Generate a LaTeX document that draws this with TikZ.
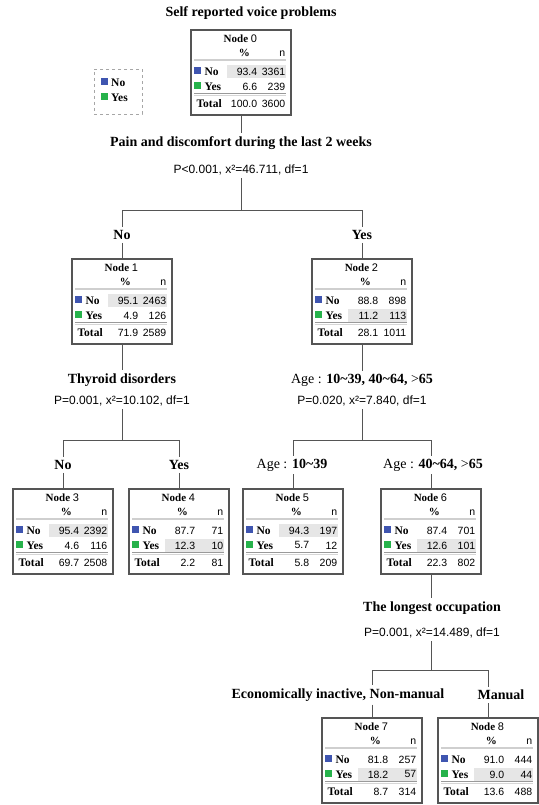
\documentclass[tikz,border=0pt]{standalone}
\usepackage{fontspec}
\setmainfont{Liberation Serif}
\setsansfont{Liberation Sans}
\usepackage{xcolor}
\usepackage{tikz}
\usetikzlibrary{calc}
\definecolor{wire}{HTML}{555555}
\definecolor{frame}{HTML}{555555}
\definecolor{cellgray}{HTML}{E6E6E6}
\definecolor{hdrline}{HTML}{CFCFCF}
\definecolor{sepdark}{HTML}{9A9A9A}
\definecolor{seplight}{HTML}{D6D6D6}
\definecolor{noblue}{HTML}{3F55B0}
\definecolor{yesgreen}{HTML}{26B24B}
\tikzset{
  every picture/.style={line cap=butt, line join=miter},
  branch/.style={draw=wire, line width=0.9pt},
  nodebox/.style={draw=frame, line width=1.2pt, fill=white, minimum width=100pt, minimum height=85pt, inner sep=0pt},
  keybox/.style={draw=gray!70, dashed, line width=0.8pt, minimum width=48pt, minimum height=45pt, inner sep=0pt},
  splitlab/.style={font=\fontsize{14}{16}\selectfont\bfseries, inner sep=3pt},
  stat/.style={font=\sffamily\fontsize{12}{14}\selectfont, inner sep=3pt},
  head/.style={font=\fontsize{11}{12}\selectfont\bfseries, inner sep=0pt},
  cell/.style={font=\sffamily\fontsize{10.5}{12}\selectfont, inner sep=0pt, anchor=east},
  rowlab/.style={font=\fontsize{11.5}{12}\selectfont\bfseries, inner sep=0pt, anchor=west},
  hdr/.style={draw=hdrline, line width=1.6pt},
  sepa/.style={draw=sepdark, line width=1.1pt},
  sepb/.style={draw=seplight, line width=1pt}
}
\newcommand{\TreeNode}[9]{%
  % #1 = name, #2 = centre x, #3 = top y, #4 = node number, #5 = shaded row (42 = No, 57 = Yes)
  % #6/#7 = No % and n, #8/#9 = Yes % and n
  \node[nodebox] (#1) at (#2,#3+42.5) {};
  \coordinate (#1-o) at (#1.north west);
  \fill[cellgray] ($(#1-o)+(37,#5-6.5)$) rectangle ($(#1-o)+(96,#5+6.5)$);
  \node[head] (#1-t) at ($(#1-o)+(50,9)$) {Node {\sffamily\mdseries #4}};
  \node[head] (#1-hp) at ($(#1-o)+(54,24)$) {\%};
  \node[cell] (#1-hn) at ($(#1-o)+(95,24)$) {n};
  \draw[hdr] ($(#1-o)+(4,30.5)$) -- ($(#1-o)+(96,30.5)$);
  \fill[noblue] ($(#1-o)+(4,37.5)$) rectangle ++(7,7);
  \fill[yesgreen] ($(#1-o)+(4,52.5)$) rectangle ++(7,7);
  \node[rowlab] (#1-no) at ($(#1-o)+(14,42)$) {No};
  \node[rowlab] (#1-yes) at ($(#1-o)+(14,57)$) {Yes};
  \node[cell] (#1-nop) at ($(#1-o)+(67,42)$) {#6};
  \node[cell] (#1-non) at ($(#1-o)+(95,42)$) {#7};
  \node[cell] (#1-yesp) at ($(#1-o)+(67,57)$) {#8};
  \node[cell] (#1-yesn) at ($(#1-o)+(95,57)$) {#9};
  \draw[sepa] ($(#1-o)+(4,64.5)$) -- ($(#1-o)+(96,64.5)$);
  \draw[sepb] ($(#1-o)+(4,66)$) -- ($(#1-o)+(96,66)$);
}
\newcommand{\TotalRow}[3]{%
  % #1 = name, #2 = total %, #3 = total n
  \node[rowlab] (#1-tot) at ($(#1-o)+(6,74)$) {Total};
  \node[cell] (#1-totp) at ($(#1-o)+(67,74)$) {#2};
  \node[cell] (#1-totn) at ($(#1-o)+(95,74)$) {#3};
}

\begin{document}
\begin{tikzpicture}[x=1pt, y=-1pt]
  \useasboundingbox[fill=white] (0,0) rectangle (538,805);

  % title and key
  \node[splitlab] (top) at (251,13) {Self reported voice problems};
  \node[keybox] (key) at (118,91.5) {};
  \fill[noblue] (101,78.5) rectangle ++(7,7);
  \fill[yesgreen] (101,93.5) rectangle ++(7,7);
  \node[rowlab] (keyno) at (111,83) {No};
  \node[rowlab] (keyyes) at (111,98) {Yes};

  % root
  \TreeNode{n0}{241}{30}{0}{42}{93.4}{3361}{6.6}{239}
  \TotalRow{n0}{100.0}{3600}
  \node[splitlab] (q0) at (241,143) {Pain and discomfort during the last 2 weeks};
  \node[stat] (s0) at (241,170) {P<0.001, x²=46.711, df=1};
  \coordinate (f0) at (241,210);

  % first split
  \TreeNode{n1}{122}{259}{1}{42}{95.1}{2463}{4.9}{126}
  \TotalRow{n1}{71.9}{2589}
  \TreeNode{n2}{362}{259}{2}{57}{88.8}{898}{11.2}{113}
  \TotalRow{n2}{28.1}{1011}
  \node[splitlab] (b1) at (122,235) {No};
  \node[splitlab] (b2) at (362,235) {Yes};

  \node[splitlab] (q1) at (122,380) {Thyroid disorders};
  \node[stat] (s1) at (122,401) {P=0.001, x²=10.102, df=1};
  \coordinate (f1) at (122,440);
  \node[splitlab] (q2) at (362,380) {{\mdseries Age :} 10\textasciitilde39, 40\textasciitilde64, {\mdseries >}65};
  \node[stat] (s2) at (362,401) {P=0.020, x²=7.840, df=1};
  \coordinate (f2) at (362,440);

  % second level
  \TreeNode{n3}{63}{489}{3}{42}{95.4}{2392}{4.6}{116}
  \TotalRow{n3}{69.7}{2508}
  \TreeNode{n4}{179}{489}{4}{57}{87.7}{71}{12.3}{10}
  \TotalRow{n4}{2.2}{81}
  \TreeNode{n5}{293}{489}{5}{42}{94.3}{197}{5.7}{12}
  \TotalRow{n5}{5.8}{209}
  \TreeNode{n6}{431}{489}{6}{57}{87.4}{701}{12.6}{101}
  \TotalRow{n6}{22.3}{802}
  \node[splitlab] (b3) at (63,465) {No};
  \node[splitlab] (b4) at (179,465) {Yes};
  \node[splitlab] (b5) at (292,465) {{\mdseries Age :} 10\textasciitilde39};
  \node[splitlab] (b6) at (433,465) {{\mdseries Age :} 40\textasciitilde64, {\mdseries >}65};

  \node[splitlab] (q6) at (432,608) {The longest occupation};
  \node[stat] (s6) at (432,633) {P=0.001, x²=14.489, df=1};
  \coordinate (f6) at (431,670);

  % third level
  \TreeNode{n7}{372}{718}{7}{57}{81.8}{257}{18.2}{57}
  \TotalRow{n7}{8.7}{314}
  \TreeNode{n8}{488}{718}{8}{57}{91.0}{444}{9.0}{44}
  \TotalRow{n8}{13.6}{488}
  \node[splitlab] (b7) at (338,695) {Economically inactive, Non-manual};
  \node[splitlab] (b8) at (501,695) {Manual};

  % connectors
  \draw[branch] (n0) -- (q0);
  \draw[branch] (s0) -- (f0);
  \draw[branch] (f0 -| n1) -- (f0 -| n2);
  \draw[branch] (f0 -| n1) -- (b1);
  \draw[branch] (f0 -| n2) -- (b2);
  \draw[branch] (b1) -- (n1);
  \draw[branch] (b2) -- (n2);
  \draw[branch] (n1) -- (q1);
  \draw[branch] (n2) -- (q2);
  \draw[branch] (s1) -- (f1);
  \draw[branch] (s2) -- (f2);
  \draw[branch] (f1 -| n3) -- (f1 -| n4);
  \draw[branch] (f2 -| n5) -- (f2 -| n6);
  \draw[branch] (f1 -| n3) -- (n3 |- b3.north);
  \draw[branch] (f1 -| n4) -- (n4 |- b4.north);
  \draw[branch] (f2 -| n5) -- (n5 |- b5.north);
  \draw[branch] (f2 -| n6) -- (n6 |- b6.north);
  \draw[branch] (n3 |- b3.south) -- (n3);
  \draw[branch] (n4 |- b4.south) -- (n4);
  \draw[branch] (n5 |- b5.south) -- (n5);
  \draw[branch] (n6 |- b6.south) -- (n6);
  \draw[branch] (n6) -- (n6 |- q6.north);
  \draw[branch] (n6 |- s6.south) -- (f6);
  \draw[branch] (f6 -| n7) -- (f6 -| n8);
  \draw[branch] (f6 -| n7) -- (n7 |- b7.north);
  \draw[branch] (f6 -| n8) -- (n8 |- b8.north);
  \draw[branch] (n7 |- b7.south) -- (n7);
  \draw[branch] (n8 |- b8.south) -- (n8);
\end{tikzpicture}
\end{document}
